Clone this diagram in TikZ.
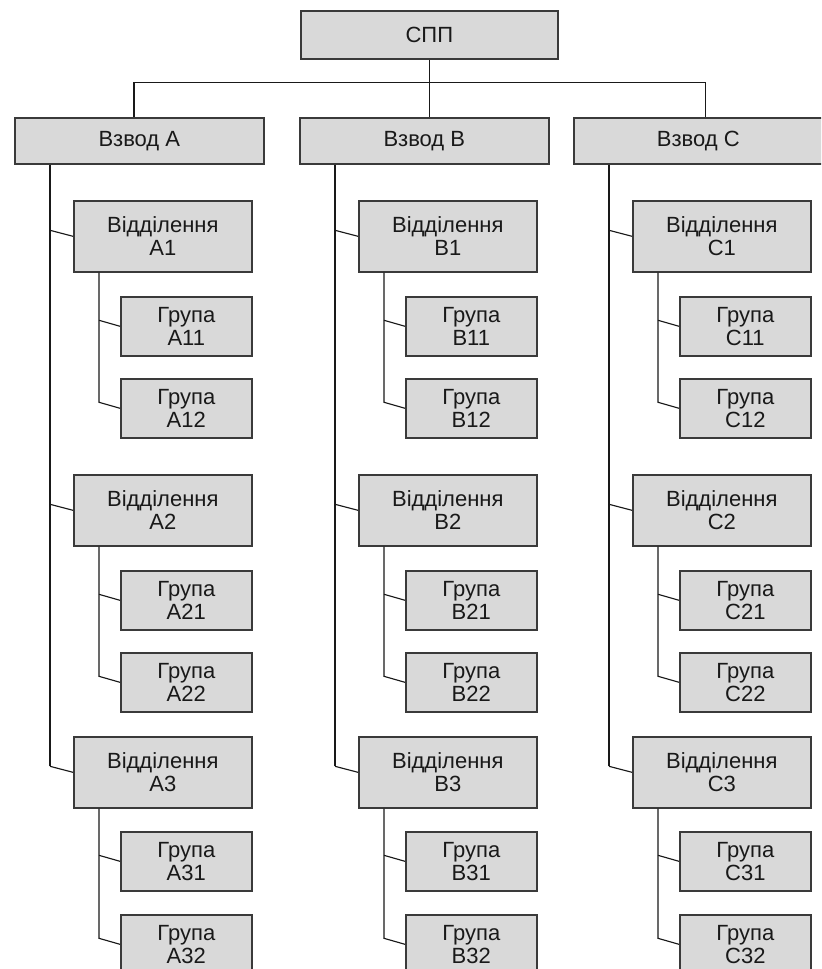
\documentclass[tikz,border=0pt]{standalone}
\usepackage{fontspec}
\setmainfont{Liberation Sans}
\usepackage{tikz}
\usetikzlibrary{calc}
\definecolor{boxfill}{HTML}{D9D9D9}
\definecolor{boxline}{HTML}{3A3A3A}

\begin{document}
\begin{tikzpicture}[x=0.75pt, y=-0.75pt,
  font=\fontsize{16.5pt}{17.5pt}\selectfont, text=black!90,
  box/.style={draw=boxline, fill=boxfill, line width=1.2pt, inner sep=0pt,
              align=center, anchor=north west},
  chief/.style={box, minimum width=192.75pt, minimum height=36pt},
  plt/.style={box, minimum width=186.75pt, minimum height=34.5pt},
  sqd/.style={box, minimum width=133.5pt, minimum height=53.25pt},
  grp/.style={box, minimum width=98.25pt, minimum height=44.25pt},
  link/.style={line width=0.85pt, black!90}]

\clip (0,0) rectangle (821,969);

\node[chief] (spp) at (300,10) {СПП};
\coordinate (bus) at ($(spp.south)+(0,-17.25pt)$);

% one column per platoon
\foreach \pl/\lt/\px in {A/А/14, B/В/299, C/С/573} {
  \node[plt] (vz\pl) at (\px,117) {Взвод \lt};
  \coordinate (s\pl) at ($(vz\pl.south west)+(27pt,0)$);
  \foreach \sq/\yd/\ya/\yb in {1/200/296/378, 2/474/570/652, 3/736/831/914} {
    \node[sqd] (d\pl\sq) at (\px+59,\yd) {Відділення\\\lt\sq};
    \node[grp] (g\pl\sq1) at (\px+106,\ya) {Група\\\lt\sq1};
    \node[grp] (g\pl\sq2) at (\px+106,\yb) {Група\\\lt\sq2};
    \coordinate (t\pl\sq) at ($(d\pl\sq.south west)+(19.5pt,0)$);
    \draw[link] (t\pl\sq) -- ($(t\pl\sq |- g\pl\sq2.west)+(0,4.5pt)$)
      -- (g\pl\sq2.west);
    \draw[link] ($(t\pl\sq |- g\pl\sq1.west)+(0,4.5pt)$) -- (g\pl\sq1.west);
    \draw[link] ($(s\pl |- d\pl\sq.west)+(0,4.5pt)$) -- (d\pl\sq.west);
  }
  \draw[link] (s\pl) -- ($(s\pl |- d\pl3.west)+(0,4.5pt)$);
}

\draw[link] (spp.south) -- (spp.south |- vzB.north);
\draw[link] ([xshift=-4pt]vzA.north) |- (bus) -| ([xshift=5.5pt]vzC.north);
\end{tikzpicture}
\end{document}
